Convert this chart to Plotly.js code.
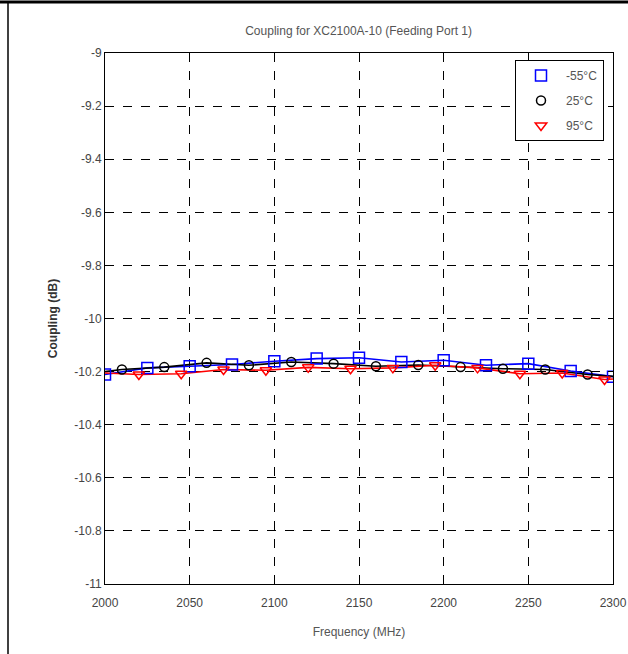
<!DOCTYPE html>
<html>
<head>
<meta charset="utf-8">
<script src="https://cdn.plot.ly/plotly-3.0.1.min.js"></script>
<style>html,body{margin:0;padding:0;background:#fff;}#chart{width:628px;height:654px;}</style>
</head>
<body>
<div id="chart"></div>
<script>
// -55°C series (blue squares)
const freqCold = [2000, 2025, 2050, 2075, 2100, 2125, 2150, 2175, 2200, 2225, 2250, 2275, 2300];
const couplingCold = [-10.211, -10.186, -10.180, -10.173, -10.161, -10.151, -10.148, -10.164, -10.157, -10.176, -10.170, -10.198, -10.219];

// 25°C series (black circles)
const freqRoom = [2000, 2010, 2035, 2060, 2085, 2110, 2135, 2160, 2185, 2210, 2235, 2260, 2285, 2300];
const couplingRoom = [-10.200, -10.192, -10.183, -10.167, -10.176, -10.164, -10.170, -10.180, -10.175, -10.183, -10.189, -10.192, -10.211, -10.218];
const roomMarkerShown = [0, 1, 1, 1, 1, 1, 1, 1, 1, 1, 1, 1, 1, 0];

// 95°C series (red triangles)
const freqHot = [2000, 2020, 2045, 2070, 2095, 2120, 2145, 2170, 2195, 2220, 2245, 2270, 2295, 2300];
const couplingHot = [-10.205, -10.211, -10.208, -10.192, -10.195, -10.184, -10.189, -10.186, -10.176, -10.186, -10.208, -10.205, -10.230, -10.228];
const hotMarkerShown = [0, 1, 1, 1, 1, 1, 1, 1, 1, 1, 1, 1, 1, 0];

const seriesNames = ["-55°C", "25°C", "95°C"];
const xTicks = [2000, 2050, 2100, 2150, 2200, 2250, 2300];
const yTicks = [-9, -9.2, -9.4, -9.6, -9.8, -10, -10.2, -10.4, -10.6, -10.8, -11];

function sel(xs, flags) { return xs.filter((_, i) => flags[i]); }
const allShown = freqCold.map(() => 1);

const colors = ["#0000ff", "#000000", "#ff0000"];
const symbols = ["square-open", "circle-open", "triangle-down-open"];
const sizes = [11, 9, 10];
const series = [
  [freqCold, couplingCold, allShown],
  [freqRoom, couplingRoom, roomMarkerShown],
  [freqHot, couplingHot, hotMarkerShown]
];

const traces = [];
series.forEach((s, i) => {
  traces.push({
    x: s[0], y: s[1], mode: "lines", type: "scatter",
    line: {color: colors[i], width: 1.6}, showlegend: false, hoverinfo: "skip"
  });
});
series.forEach((s, i) => {
  traces.push({
    x: sel(s[0], s[2]), y: sel(s[1], s[2]), mode: "markers", type: "scatter",
    name: seriesNames[i], legendgroup: "g" + i,
    marker: {symbol: symbols[i], size: sizes[i], color: colors[i], line: {color: colors[i], width: 1.5}}
  });
});

const L = 105, R = 613, T = 53, B = 584;
function px(xp) { return (xp - L) / (R - L); }
function py(yp) { return (B - yp) / (B - T); }

const layout = {
  width: 628, height: 654,
  margin: {l: L, r: 628 - R, t: T, b: 654 - B},
  paper_bgcolor: "#ffffff", plot_bgcolor: "#ffffff",
  font: {family: "Liberation Sans, Arial, sans-serif", size: 12, color: "#444"},
  title: {text: "Coupling for XC2100A-10 (Feeding Port 1)", x: 0.571, xanchor: "center", y: 1 - 31 / 654, yanchor: "middle",
          font: {size: 12, color: "#555"}},
  xaxis: {
    range: [2000, 2300], tickvals: xTicks, ticktext: xTicks.map(String),
    showgrid: true, gridcolor: "#000", griddash: "dash", gridwidth: 1,
    showline: true, linecolor: "#000", linewidth: 1, mirror: "ticks",
    ticks: "inside", ticklen: 5, tickcolor: "#000", zeroline: false,
    ticklabelstandoff: 8,
    tickfont: {size: 12, color: "#444"},
    title: {text: "Frequency (MHz)", standoff: 18, font: {size: 12, color: "#555"}}
  },
  yaxis: {
    range: [-11, -9], tickvals: yTicks, ticktext: yTicks.map(String),
    showgrid: true, gridcolor: "#000", griddash: "dash", gridwidth: 1,
    showline: true, linecolor: "#000", linewidth: 1, mirror: "ticks",
    ticks: "inside", ticklen: 5, tickcolor: "#000", zeroline: false,
    tickfont: {size: 12, color: "#444"},
    title: {text: "<b>Coupling (dB)</b>", standoff: 14, font: {size: 12, color: "#333"}}
  },
  legend: {
    x: px(604), xanchor: "right", y: py(60), yanchor: "top",
    bgcolor: "#ffffff", bordercolor: "#000", borderwidth: 1,
    font: {size: 12, color: "#555"}, itemwidth: 40, tracegroupgap: 6
  },
  shapes: [
    {type: "line", xref: "paper", yref: "paper", x0: px(0), x1: px(628), y0: py(2), y1: py(2), line: {color: "#000", width: 3}},
    {type: "line", xref: "paper", yref: "paper", x0: px(8), x1: px(8), y0: py(2), y1: py(654), line: {color: "#000", width: 1.5}}
  ],
  showlegend: true
};

Plotly.newPlot("chart", traces, layout, {displayModeBar: false, staticPlot: true});
</script>
</body>
</html>
